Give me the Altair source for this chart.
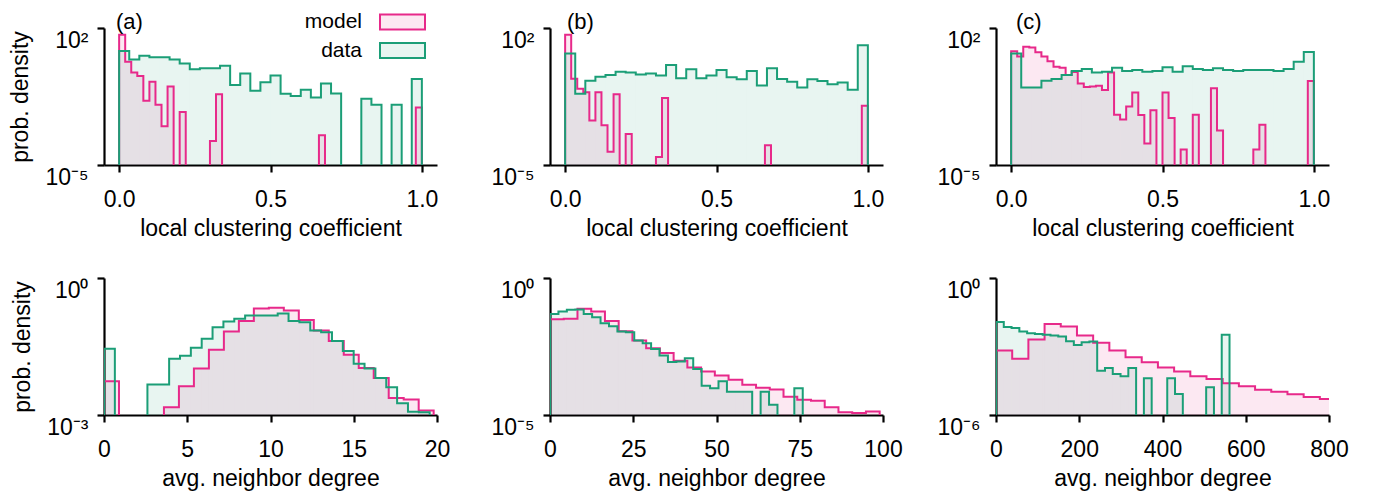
import altair as alt
import pandas as pd

FONT = "Liberation Sans"
PINK = "#e7298a"
GREEN = "#1b9e77"
PINK_FILL = "rgba(231,41,138,0.11)"
GREEN_FILL = "rgba(27,158,119,0.10)"
N = None  # empty bin

SERIES = ["model", "data"]

# ---- bin layouts: (first edge, last edge, number of bins) ----
TOP_MODEL_BINS = (0.0, 1.0, 50)
TOP_DATA_BINS = (0.0, 1.0, 30)
BOT_A_MODEL_BINS = (0.0, 19.8, 22)
BOT_A_DATA_BINS = (0.0, 19.56, 30)
BOT_B_MODEL_BINS = (0.0, 99.0, 24)
BOT_B_DATA_BINS = (0.0, 75.9, 30)
BOT_C_MODEL_BINS = (0.0, 816.9, 21)
BOT_C_DATA_BINS = (0.0, 561.0, 30)

# ---- log10 of probability density per bin (None = empty bin) ----
TOP_A_MODEL = [1.66, 0.28, -0.27, -0.45, -1.72, -0.74, -1.92, -3.02, -0.99, N,
               -2.29, N, N, N, N, -3.78, -1.38, N, N, N,
               N, N, N, N, N, N, N, N, N, N,
               N, N, N, -3.48, N, N, N, N, N, N,
               N, N, N, N, N, N, N, N, N, -2.06]
TOP_A_DATA = [0.82, 0.39, 0.58, 0.50, 0.50, 0.39, 0.19, -0.11, -0.06, -0.06,
              0.07, -0.91, -0.32, -1.21, -0.77, -0.43, -1.36, -1.48, -1.16, -1.55,
              -0.84, -1.35, N, N, -1.62, -1.92, N, -1.92, N, -0.60]

TOP_B_MODEL = [1.66, -0.59, -1.11, -1.28, -2.72, -1.28, -2.97, -4.32, -1.38, N,
               -3.41, N, N, N, N, -4.59, -1.58, N, N, N,
               N, N, N, N, N, N, N, N, N, N,
               N, N, N, -3.99, N, N, N, N, N, N,
               N, N, N, N, N, N, N, N, N, -1.97]
TOP_B_DATA = [0.70, -1.36, -0.69, -0.49, -0.40, -0.23, -0.27, -0.37, -0.32, -0.43,
              0.11, -0.57, -0.11, -0.57, -0.43, -0.15, -0.52, -0.62, -0.20, -0.94,
              -0.06, -0.60, -0.74, -1.04, -0.62, -0.71, -0.87, -0.79, -1.16, 1.12]

TOP_C_MODEL = [0.81, 0.55, 1.04, 1.00, 0.76, 0.55, 0.30, 0.02, -0.03, -0.40,
               -0.25, -0.83, -1.02, -0.99, -0.95, -1.17, -0.28, -2.43, -2.68, -2.01,
               -1.30, -2.45, -3.90, -2.20, N, -1.30, -2.60, N, -4.21, N,
               -2.43, N, N, -1.08, -3.24, N, N, N, N, N,
               -4.21, -2.94, N, N, N, N, N, N, N, -0.71]
TOP_C_DATA = [0.70, -1.04, -1.04, -0.69, -0.60, -0.40, -0.20, -0.10, -0.28, -0.23,
              -0.03, -0.20, -0.15, -0.23, -0.20, 0.00, -0.23, 0.05, -0.10, -0.15,
              -0.06, -0.15, -0.20, -0.15, -0.15, -0.15, -0.20, -0.10, 0.28, 0.78]

BOT_A_MODEL = [-2.26, N, N, N, -2.83, -2.37, -1.98, -1.57, -1.17, -0.94,
               -0.67, -0.65, -0.71, -0.92, -1.15, -1.38, -1.68, -1.97, -2.19, -2.63,
               -2.66, -2.90]
BOT_A_DATA = [-1.55, N, N, N, -2.33, -2.33, -1.77, -1.70, -1.53, -1.33,
              -1.08, -0.95, -0.89, -0.82, -0.82, -0.82, -0.78, -0.94, -0.97, -1.15,
              -1.19, -1.38, -1.60, -1.88, -1.98, -2.19, -2.39, -2.74, -2.93, -2.94]

BOT_B_MODEL = [-1.51, -1.49, -1.12, -1.22, -1.57, -1.94, -2.28, -2.56, -2.74, -3.02,
               -3.27, -3.41, -3.56, -3.71, -3.90, -4.01, -4.07, -4.33, -4.44, -4.48,
               -4.72, -4.90, -4.93, -4.87]
BOT_B_DATA = [-1.31, -1.22, -1.16, -1.15, -1.31, -1.43, -1.65, -1.76, -1.95, -1.98,
              -2.28, -2.38, -2.59, -2.83, -3.07, -3.05, -2.93, -3.32, -3.93, -4.02,
              -3.77, -4.15, -4.15, -4.15, N, -4.15, -4.63, N, N, -4.02]

BOT_C_MODEL = [-3.18, -3.54, -2.69, -2.01, -2.12, -2.52, -2.84, -3.18, -3.47, -3.69,
               -3.92, -4.10, -4.30, -4.42, -4.61, -4.74, -4.89, -4.98, -5.09, -5.21,
               -5.30]
BOT_C_DATA = [-1.93, -2.15, -2.19, -2.34, -2.42, -2.45, -2.48, -2.52, -2.56, -2.77,
              -2.93, -2.81, -2.78, -4.06, -3.94, -4.20, -4.30, -3.94, N, -4.39,
              N, N, -4.39, -5.08, N, N, N, -4.79, N, -2.48]

# ---- axes text ----
X_TITLE_TOP = "local clustering coefficient"
X_TITLE_BOT = "avg. neighbor degree"
Y_TITLE = "prob. density"
PANEL_LABELS = ["(a)", "(b)", "(c)"]
PANEL_LABEL_DX = [12, 17, 20]
TOP_X_TICKS = [0.0, 0.5, 1.0]
BOT_X_TICKS = [[0, 5, 10, 15, 20], [0, 25, 50, 75, 100], [0, 200, 400, 600, 800]]
BOT_X_DOMAINS = [[0, 20], [0, 100], [0, 800]]
TOP_Y_EXP = (-5, 2)
BOT_Y_EXP = [(-3, 0), (-5, 0), (-6, 0)]

TINY = 1e-12
W, H = 333, 137

SUP = {"-": "\u207b", "0": "\u2070", "1": "\u00b9", "2": "\u00b2", "3": "\u00b3",
       "4": "\u2074", "5": "\u2075", "6": "\u2076", "7": "\u2077", "8": "\u2078", "9": "\u2079"}


def sup_label(e):
    return "10" + "".join(SUP[c] for c in str(e))


def edges_of(bins):
    lo, hi, n = bins
    return [lo + (hi - lo) * i / n for i in range(n + 1)]


def step_rows(bins, logs, series):
    edges = edges_of(bins)
    vals = [10 ** v if v is not None else TINY for v in logs]
    pts = [(edges[0], TINY)] + list(zip(edges[:-1], vals)) + [(edges[-1], vals[-1]), (edges[-1], TINY)]
    return [{"x": x, "y": y, "series": series, "o": i} for i, (x, y) in enumerate(pts)]


def bar_rows(bins, logs, series):
    edges = edges_of(bins)
    return [{"x0": edges[i], "x1": edges[i + 1], "y": 10 ** v, "series": series}
            for i, v in enumerate(logs) if v is not None]


LEGEND = alt.Legend(orient="none", legendX=288, legendY=-16.5,
                    symbolType="M-3,-1H3V1H-3Z", symbolSize=225,
                    symbolStrokeWidth=2, rowPadding=5.5,
                    labelOffset={"expr": "-51"}, labelAlign="right",
                    labelFontSize=21, labelFont=FONT, labelColor="black",
                    labelLimit=300, padding=0)


def panel(model_bins, model_logs, data_bins, data_logs, xdom, xticks, xfmt, xtitle,
          yexp, ytitle, label=None, label_dx=0, legend=False):
    line_df = pd.DataFrame(step_rows(model_bins, model_logs, "model") +
                           step_rows(data_bins, data_logs, "data"))
    bar_df = pd.DataFrame(bar_rows(model_bins, model_logs, "model") +
                          bar_rows(data_bins, data_logs, "data"))
    lo, hi = yexp
    ydom = [10.0 ** lo, 10.0 ** hi]
    mid = 10.0 ** ((lo + hi) / 2)
    xscale = alt.Scale(domain=xdom, nice=False, zero=False)
    xaxis = alt.Axis(values=xticks, format=xfmt, title=xtitle, labelFlush=False,
                     labelPadding=16, titlePadding=6)
    yscale = alt.Scale(type="log", domain=ydom, nice=False)
    yaxis = alt.Axis(values=ydom, title=ytitle,
                     labelExpr=f"datum.value > {mid} ? '{sup_label(hi)}' : '{sup_label(lo)}'",
                     labelBaseline="middle", labelOffset=12, labelPadding=9,
                     titlePadding=12)
    fill_scale = alt.Scale(domain=SERIES, range=[PINK_FILL, GREEN_FILL])
    stroke_scale = alt.Scale(domain=SERIES, range=[PINK, GREEN])
    if legend:
        fill = alt.Fill("series:N", title=None, legend=LEGEND, scale=fill_scale)
        stroke = alt.Stroke("series:N", title=None, legend=LEGEND, scale=stroke_scale)
    else:
        fill = alt.Fill("series:N", title=None, scale=fill_scale)
        stroke = alt.Stroke("series:N", title=None, scale=stroke_scale)
    bars = alt.Chart(bar_df).mark_bar(clip=True).encode(
        x=alt.X("x0:Q", scale=xscale, axis=xaxis), x2="x1:Q",
        y=alt.Y("y:Q", scale=yscale, axis=yaxis), y2=alt.value(H), fill=fill)
    line = alt.Chart(line_df).mark_line(interpolate="step-after", clip=True, strokeWidth=2).encode(
        x=alt.X("x:Q", scale=xscale, axis=xaxis), y=alt.Y("y:Q", scale=yscale, axis=yaxis),
        stroke=stroke, order="o:Q")
    props = dict(width=W, height=H)
    if label is not None:
        props["title"] = alt.TitleParams(label, anchor="start", frame="group", dx=label_dx,
                                         offset=-24.5, fontSize=22, font=FONT,
                                         fontWeight="normal", color="black",
                                         baseline="alphabetic")
    return alt.layer(bars, line).properties(**props)


charts = [
    panel(TOP_MODEL_BINS, TOP_A_MODEL, TOP_DATA_BINS, TOP_A_DATA, [-0.05, 1.05], TOP_X_TICKS, ".1f",
          X_TITLE_TOP, TOP_Y_EXP, Y_TITLE, PANEL_LABELS[0], PANEL_LABEL_DX[0], legend=True),
    panel(TOP_MODEL_BINS, TOP_B_MODEL, TOP_DATA_BINS, TOP_B_DATA, [-0.05, 1.05], TOP_X_TICKS, ".1f",
          X_TITLE_TOP, TOP_Y_EXP, "", PANEL_LABELS[1], PANEL_LABEL_DX[1]),
    panel(TOP_MODEL_BINS, TOP_C_MODEL, TOP_DATA_BINS, TOP_C_DATA, [-0.05, 1.05], TOP_X_TICKS, ".1f",
          X_TITLE_TOP, TOP_Y_EXP, "", PANEL_LABELS[2], PANEL_LABEL_DX[2]),
    panel(BOT_A_MODEL_BINS, BOT_A_MODEL, BOT_A_DATA_BINS, BOT_A_DATA, BOT_X_DOMAINS[0], BOT_X_TICKS[0], "d",
          X_TITLE_BOT, BOT_Y_EXP[0], Y_TITLE),
    panel(BOT_B_MODEL_BINS, BOT_B_MODEL, BOT_B_DATA_BINS, BOT_B_DATA, BOT_X_DOMAINS[1], BOT_X_TICKS[1], "d",
          X_TITLE_BOT, BOT_Y_EXP[1], ""),
    panel(BOT_C_MODEL_BINS, BOT_C_MODEL, BOT_C_DATA_BINS, BOT_C_DATA, BOT_X_DOMAINS[2], BOT_X_TICKS[2], "d",
          X_TITLE_BOT, BOT_Y_EXP[2], ""),
]

chart = alt.concat(*charts, columns=3, spacing=113, bounds="flush").resolve_scale(
    fill="shared", stroke="shared"
).properties(
    padding={"left": 1, "top": 3, "right": 5, "bottom": 5}
).configure_view(strokeWidth=0).configure_axis(
    grid=False, domainColor="black", domainWidth=2.2, tickColor="black", tickWidth=2.2,
    tickSize=7, labelFont=FONT, labelFontSize=23, labelColor="black",
    titleFont=FONT, titleFontSize=23, titleFontWeight="normal", titleColor="black"
)

chart.save("out.html", embed_options={"renderer": "svg", "actions": False})
